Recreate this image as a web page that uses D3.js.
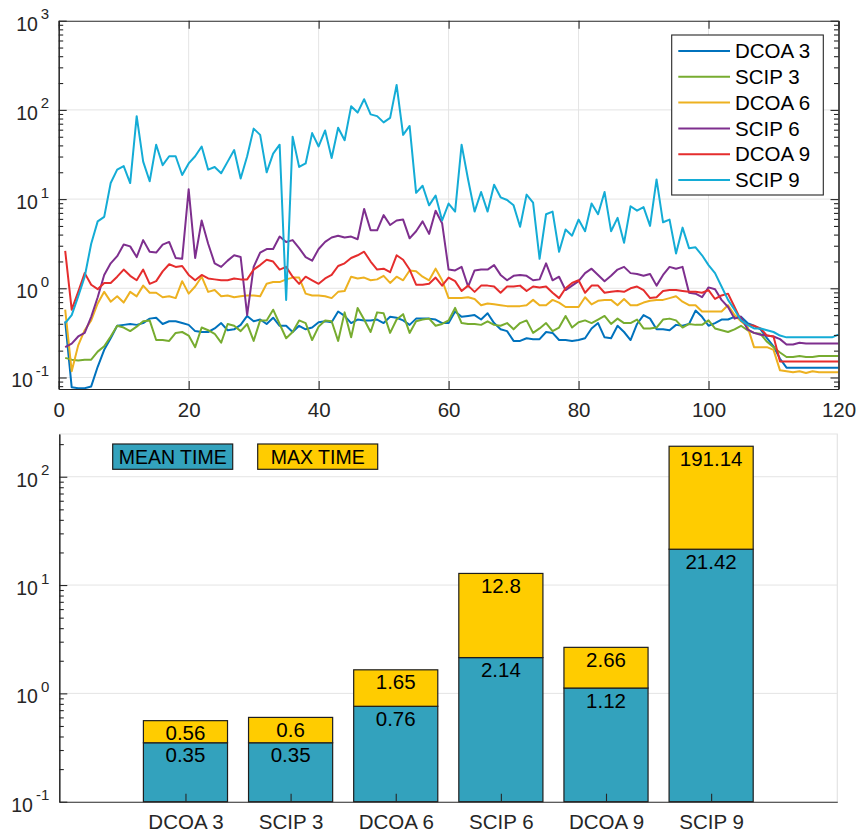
<!DOCTYPE html>
<html>
<head>
<meta charset="utf-8">
<script src="https://cdn.jsdelivr.net/npm/d3@7"></script>
<style>
	body { margin: 0; background: #fff; }
	svg { display: block; font-family: "Liberation Sans", Arial, sans-serif; }
</style>
</head>
<body>
<script>
//everything inside an anonymous function so nothing leaks into global scope
(function () {
	//series names, same order as they are plotted
	var seriesNames = ["DCOA 3", "SCIP 3", "DCOA 6", "SCIP 6", "DCOA 9", "SCIP 9"];
	var seriesColors = ["#0072BD", "#77AC30", "#EDB120", "#7E2F8E", "#E52D2D", "#14ACD6"];

	//solve time per instance 1..120, stored as log10(seconds)
	var dcoa3 = [-0.37,-1.11,-1.12,-1.12,-1.10,-0.88,-0.69,-0.56,-0.42,-0.41,-0.40,-0.41,-0.39,-0.34,-0.33,-0.40,-0.37,-0.37,-0.39,-0.41,
		-0.48,-0.49,-0.49,-0.45,-0.39,-0.47,-0.46,-0.41,-0.31,-0.37,-0.35,-0.40,-0.33,-0.42,-0.42,-0.49,-0.42,-0.46,-0.44,-0.38,
		-0.37,-0.38,-0.26,-0.31,-0.39,-0.35,-0.36,-0.36,-0.35,-0.39,-0.32,-0.33,-0.36,-0.41,-0.34,-0.34,-0.34,-0.35,-0.39,-0.39,
		-0.26,-0.32,-0.31,-0.30,-0.35,-0.28,-0.39,-0.46,-0.48,-0.59,-0.59,-0.56,-0.57,-0.57,-0.49,-0.50,-0.58,-0.58,-0.59,-0.58,
		-0.56,-0.45,-0.39,-0.55,-0.56,-0.42,-0.49,-0.58,-0.40,-0.30,-0.34,-0.46,-0.46,-0.47,-0.41,-0.42,-0.40,-0.25,-0.32,-0.42,
		-0.39,-0.35,-0.35,-0.32,-0.32,-0.39,-0.42,-0.46,-0.56,-0.65,-0.79,-0.89,-0.89,-0.89,-0.89,-0.89,-0.89,-0.89,-0.89,-0.89];
	var scip3 = [-0.78,-0.80,-0.81,-0.80,-0.80,-0.71,-0.65,-0.54,-0.42,-0.44,-0.48,-0.43,-0.37,-0.36,-0.58,-0.58,-0.59,-0.50,-0.49,-0.53,
		-0.66,-0.44,-0.47,-0.51,-0.61,-0.40,-0.42,-0.48,-0.40,-0.59,-0.36,-0.36,-0.24,-0.40,-0.56,-0.49,-0.36,-0.39,-0.58,-0.43,
		-0.36,-0.37,-0.59,-0.27,-0.55,-0.22,-0.35,-0.49,-0.27,-0.28,-0.50,-0.35,-0.29,-0.50,-0.37,-0.35,-0.34,-0.42,-0.40,-0.36,
		-0.22,-0.39,-0.40,-0.40,-0.41,-0.37,-0.41,-0.42,-0.39,-0.46,-0.39,-0.36,-0.50,-0.45,-0.39,-0.48,-0.44,-0.31,-0.44,-0.38,
		-0.36,-0.39,-0.35,-0.31,-0.40,-0.34,-0.39,-0.39,-0.35,-0.45,-0.45,-0.44,-0.35,-0.34,-0.36,-0.44,-0.40,-0.41,-0.41,-0.36,
		-0.45,-0.47,-0.49,-0.46,-0.42,-0.47,-0.50,-0.51,-0.60,-0.66,-0.72,-0.77,-0.77,-0.76,-0.77,-0.77,-0.76,-0.76,-0.76,-0.76];
	var dcoa6 = [-0.24,-0.93,-0.64,-0.47,-0.36,-0.17,-0.04,-0.15,-0.09,-0.16,-0.04,-0.09,0.03,-0.05,-0.05,-0.10,-0.09,-0.11,0.08,-0.06,
		0.02,0.13,-0.04,-0.02,-0.09,-0.08,-0.10,-0.09,-0.08,-0.08,-0.09,0.05,0.07,0.07,0.10,0.12,0.12,-0.06,-0.08,-0.08,
		-0.09,-0.11,-0.04,-0.03,0.13,0.11,0.12,0.09,0.10,0.14,0.06,0.13,0.09,0.20,0.19,0.13,0.09,0.22,0.09,-0.11,
		-0.11,-0.11,-0.10,-0.12,-0.19,-0.17,-0.18,-0.19,-0.20,-0.20,-0.20,-0.19,-0.13,-0.19,-0.19,-0.13,-0.16,-0.21,-0.21,-0.21,
		-0.10,-0.18,-0.14,-0.13,-0.13,-0.19,-0.12,-0.19,-0.19,-0.16,-0.14,-0.13,-0.13,-0.11,-0.09,-0.15,-0.19,-0.19,-0.26,-0.26,
		-0.26,-0.26,-0.19,-0.30,-0.37,-0.43,-0.66,-0.66,-0.66,-0.69,-0.92,-0.93,-0.94,-0.93,-0.95,-0.93,-0.94,-0.94,-0.94,-0.94];
	var scip6 = [-0.66,-0.62,-0.54,-0.50,-0.32,-0.10,0.15,0.28,0.36,0.49,0.47,0.35,0.54,0.41,0.40,0.49,0.52,0.34,0.33,1.11,
		0.34,0.76,0.50,0.28,0.24,0.31,0.37,0.35,-0.30,0.24,0.40,0.44,0.44,0.58,0.52,0.54,0.45,0.35,0.31,0.44,
		0.52,0.57,0.59,0.57,0.58,0.55,0.89,0.65,0.65,0.82,0.71,0.76,0.77,0.56,0.64,0.75,0.61,0.87,0.73,0.21,
		0.20,0.24,0.02,0.20,0.21,0.21,0.26,0.15,0.09,0.14,0.15,0.14,0.09,0.10,0.28,0.09,0.13,-0.02,0.03,0.08,
		0.17,0.22,0.15,0.08,0.14,0.21,0.24,0.17,0.16,0.14,0.16,0.03,0.15,0.24,0.22,0.24,-0.05,-0.06,-0.10,0.01,
		-0.01,-0.13,-0.21,-0.34,-0.32,-0.46,-0.50,-0.52,-0.53,-0.54,-0.57,-0.63,-0.63,-0.61,-0.62,-0.62,-0.62,-0.62,-0.62,-0.62];
	var dcoa9 = [0.42,-0.24,-0.04,0.17,0.04,-0.01,0.06,0.06,0.13,0.21,0.14,0.09,0.21,0.05,0.08,0.19,0.27,0.24,0.25,0.15,
		0.09,0.15,0.11,0.10,0.09,0.09,0.11,0.10,0.10,0.21,0.26,0.32,0.30,0.21,0.24,0.13,0.05,0.13,0.09,0.05,
		0.11,0.15,0.25,0.28,0.34,0.37,0.41,0.30,0.21,0.22,0.18,0.37,0.32,0.21,0.04,0.04,0.05,0.12,0.03,0.12,
		0.08,-0.03,0.03,-0.04,0.03,0.03,0.02,-0.05,0.02,0.02,0.03,-0.03,0.02,0.01,0.02,-0.05,-0.11,0.00,0.06,0.09,
		-0.05,0.03,0.03,-0.05,-0.04,-0.03,-0.04,0.00,0.02,-0.02,-0.11,-0.10,-0.03,-0.02,-0.02,-0.03,-0.04,-0.04,-0.05,-0.02,
		-0.12,-0.08,-0.06,-0.21,-0.36,-0.41,-0.42,-0.45,-0.53,-0.54,-0.82,-0.82,-0.82,-0.82,-0.82,-0.82,-0.82,-0.82,-0.82,-0.82];
	var scip9 = [-0.39,-0.30,-0.09,0.13,0.50,0.75,0.80,1.18,1.33,1.37,1.18,1.93,1.42,1.20,1.61,1.38,1.48,1.48,1.27,1.40,
		1.48,1.59,1.33,1.36,1.29,1.42,1.55,1.23,1.48,1.79,1.72,1.30,1.51,1.61,-0.13,1.70,1.36,1.40,1.74,1.59,
		1.77,1.46,1.80,1.66,2.04,1.97,2.12,1.95,1.93,1.86,1.91,2.28,1.72,1.82,1.07,1.15,0.93,1.04,0.76,0.95,
		0.86,1.61,1.22,0.86,1.08,0.86,1.16,1.02,0.99,0.93,0.69,1.05,0.96,0.33,0.83,0.86,0.41,0.66,0.59,0.77,
		0.64,0.95,0.83,1.08,0.64,0.79,0.51,0.92,0.87,0.91,0.70,1.22,0.74,0.77,0.39,0.68,0.45,0.46,0.37,0.26,
		0.17,0.02,-0.13,-0.24,-0.36,-0.41,-0.45,-0.45,-0.47,-0.49,-0.53,-0.55,-0.55,-0.55,-0.55,-0.55,-0.55,-0.55,-0.55,-0.52];
	var allSeries = [dcoa3, scip3, dcoa6, scip6, dcoa9, scip9];

	//bar chart data (seconds)
	var barCategories = ["DCOA 3", "SCIP 3", "DCOA 6", "SCIP 6", "DCOA 9", "SCIP 9"];
	var meanTime = [0.35, 0.35, 0.76, 2.14, 1.12, 21.42];
	var maxTime = [0.56, 0.6, 1.65, 12.8, 2.66, 191.14];
	var barLegend = ["MEAN TIME", "MAX TIME"];

	//tick values
	var xTicksTop = [0, 20, 40, 60, 80, 100, 120];
	var yExpTop = [-1, 0, 1, 2, 3];
	var yExpBottom = [-1, 0, 1, 2];

	var axisColor = "#262626",
		gridColor = "#e4e4e4",
		meanColor = "#33A2BD",
		maxColor = "#FFCC00",
		fontSize = 20.5;

	var svg = d3.select("body")
		.append("svg")
		.attr("width", 858)
		.attr("height", 834);

	setLines();
	setBars();

	//minor log ticks 2..9 x 10^k inside a domain
	function minorTicks(domain) {
		var out = [];
		for (var k = -3; k <= 3; k++) {
			for (var m = 2; m <= 9; m++) {
				var v = m * Math.pow(10, k);
				if (v > domain[0] && v < domain[1]) out.push(v);
			}
		}
		return out;
	}

	function styleAxis(g, showText) {
		g.attr("font-family", null).attr("font-size", null);
		g.select(".domain").attr("stroke", axisColor).attr("stroke-width", 1.1);
		g.selectAll(".tick line").attr("stroke", axisColor).attr("stroke-width", 1.1);
		g.selectAll(".tick text")
			.attr("fill", axisColor)
			.style("font-size", fontSize + "px")
			.style("display", showText ? null : "none");
	}

	//log labels drawn as 10 with a superscript exponent
	function yLabels(g, y, exps, xRight) {
		var t = g.selectAll(".ylab")
			.data(exps)
			.enter()
			.append("text")
			.attr("class", "ylab")
			.attr("x", xRight)
			.attr("y", function (d) { return y(Math.pow(10, d)) + 10; })
			.attr("text-anchor", "end")
			.attr("fill", axisColor)
			.style("font-size", "19.5px");
		t.append("tspan").text("10");
		t.append("tspan")
			.attr("dx", 3)
			.attr("dy", -11.5)
			.style("font-size", "15px")
			.text(function (d) { return d; });
	}

	//top panel: time per instance
	function setLines() {
		var left = 58.7, right = 838.5, top = 20.7, bottom = 389;
		var x = d3.scaleLinear().domain([0, 120]).range([left, right]);
		var y = d3.scaleLog().domain([0.0743, 1000]).range([bottom, top]);
		var g = svg.append("g");

		g.append("rect")
			.attr("x", left).attr("y", top)
			.attr("width", right - left).attr("height", bottom - top)
			.attr("fill", "#fff");

		g.append("clipPath").attr("id", "clipTop")
			.append("rect")
			.attr("x", left).attr("y", top)
			.attr("width", right - left).attr("height", bottom - top);

		//grid
		g.selectAll(".vgrid")
			.data(xTicksTop.slice(1, -1))
			.enter()
			.append("line")
			.attr("x1", function (d) { return x(d); })
			.attr("x2", function (d) { return x(d); })
			.attr("y1", top).attr("y2", bottom)
			.attr("stroke", gridColor);
		g.selectAll(".hgrid")
			.data(yExpTop.slice(0, -1))
			.enter()
			.append("line")
			.attr("x1", left).attr("x2", right)
			.attr("y1", function (d) { return y(Math.pow(10, d)); })
			.attr("y2", function (d) { return y(Math.pow(10, d)); })
			.attr("stroke", gridColor);

		var line = d3.line()
			.x(function (d, i) { return x(i + 1); })
			.y(function (d) { return y(Math.pow(10, d)); });

		g.append("g")
			.attr("clip-path", "url(#clipTop)")
			.selectAll(".series")
			.data(allSeries)
			.enter()
			.append("path")
			.attr("class", "series")
			.attr("d", line)
			.attr("fill", "none")
			.attr("stroke-width", 2)
			.attr("stroke-linejoin", "round")
			.attr("stroke", function (d, i) { return seriesColors[i]; });

		var majors = yExpTop.map(function (d) { return Math.pow(10, d); });
		var minors = minorTicks(y.domain());

		//axes, ticks pointing inwards on all four sides
		styleAxis(g.append("g").attr("transform", "translate(0," + bottom + ")")
			.call(d3.axisBottom(x).tickValues(xTicksTop).tickSizeInner(-8).tickSizeOuter(0).tickPadding(13).tickFormat(d3.format("d"))), true);
		styleAxis(g.append("g").attr("transform", "translate(0," + top + ")")
			.call(d3.axisTop(x).tickValues(xTicksTop).tickSizeInner(-8).tickSizeOuter(0)), false);
		styleAxis(g.append("g").attr("transform", "translate(" + left + ",0)")
			.call(d3.axisLeft(y).tickValues(majors).tickSizeInner(-8).tickSizeOuter(0)), false);
		styleAxis(g.append("g").attr("transform", "translate(" + left + ",0)")
			.call(d3.axisLeft(y).tickValues(minors).tickSizeInner(-4.5).tickSizeOuter(0)), false);
		styleAxis(g.append("g").attr("transform", "translate(" + right + ",0)")
			.call(d3.axisRight(y).tickValues(majors).tickSizeInner(-8).tickSizeOuter(0)), false);
		styleAxis(g.append("g").attr("transform", "translate(" + right + ",0)")
			.call(d3.axisRight(y).tickValues(minors).tickSizeInner(-4.5).tickSizeOuter(0)), false);

		yLabels(g, y, yExpTop, left - 9.5);

		//legend
		var lg = g.append("g");
		lg.append("rect")
			.attr("x", 671.7).attr("y", 35)
			.attr("width", 151.6).attr("height", 160)
			.attr("fill", "#fff")
			.attr("stroke", axisColor)
			.attr("stroke-width", 1.1);
		var item = lg.selectAll(".item")
			.data(seriesNames)
			.enter()
			.append("g")
			.attr("transform", function (d, i) { return "translate(0," + (51 + i * 25.8) + ")"; });
		item.append("line")
			.attr("x1", 678.3).attr("x2", 730)
			.attr("stroke-width", 2)
			.attr("stroke", function (d, i) { return seriesColors[i]; });
		item.append("text")
			.attr("x", 735)
			.attr("dy", "0.35em")
			.attr("fill", "#000")
			.style("font-size", fontSize + "px")
			.text(function (d) { return d; });
	}

	//bottom panel: stacked mean / max bars
	function setBars() {
		var left = 59.3, right = 837.3, top = 434, bottom = 801.7;
		var x = d3.scaleLinear().domain([-0.2, 7.2]).range([left, right]);
		var y = d3.scaleLog().domain([0.1, 248]).range([bottom, top]);
		var barW = x(0.8) - x(0);
		var g = svg.append("g");

		//light frame on top and right
		g.append("path")
			.attr("d", "M" + left + "," + top + "H" + right + "V" + bottom)
			.attr("fill", "none")
			.attr("stroke", gridColor)
			.attr("stroke-width", 1.2);

		g.selectAll(".hgrid")
			.data(yExpBottom.slice(1))
			.enter()
			.append("line")
			.attr("x1", left).attr("x2", right)
			.attr("y1", function (d) { return y(Math.pow(10, d)); })
			.attr("y2", function (d) { return y(Math.pow(10, d)); })
			.attr("stroke", gridColor);

		var bars = g.selectAll(".bar")
			.data(barCategories)
			.enter()
			.append("g")
			.attr("class", "bar");

		bars.append("rect")
			.attr("x", function (d, i) { return x(i + 1) - barW / 2; })
			.attr("width", barW)
			.attr("y", function (d, i) { return y(meanTime[i]); })
			.attr("height", function (d, i) { return y(0.1) - y(meanTime[i]); })
			.attr("fill", meanColor)
			.attr("stroke", "#1e1e1e")
			.attr("stroke-width", 1.2);
		bars.append("rect")
			.attr("x", function (d, i) { return x(i + 1) - barW / 2; })
			.attr("width", barW)
			.attr("y", function (d, i) { return y(maxTime[i]); })
			.attr("height", function (d, i) { return y(meanTime[i]) - y(maxTime[i]); })
			.attr("fill", maxColor)
			.attr("stroke", "#1e1e1e")
			.attr("stroke-width", 1.2);

		//value labels just under each segment top
		bars.append("text")
			.attr("x", function (d, i) { return x(i + 1); })
			.attr("y", function (d, i) { return y(meanTime[i]) + 19.5; })
			.attr("text-anchor", "middle")
			.style("font-size", fontSize + "px")
			.text(function (d, i) { return meanTime[i]; });
		bars.append("text")
			.attr("x", function (d, i) { return x(i + 1); })
			.attr("y", function (d, i) { return y(maxTime[i]) + 19.5; })
			.attr("text-anchor", "middle")
			.style("font-size", fontSize + "px")
			.text(function (d, i) { return maxTime[i]; });

		var cats = barCategories.map(function (d, i) { return i + 1; });
		styleAxis(g.append("g").attr("transform", "translate(0," + bottom + ")")
			.call(d3.axisBottom(x).tickValues(cats).tickSizeInner(-8).tickSizeOuter(0).tickPadding(13)
				.tickFormat(function (d) { return barCategories[d - 1]; })), true);
		var majors = yExpBottom.map(function (d) { return Math.pow(10, d); });
		styleAxis(g.append("g").attr("transform", "translate(" + left + ",0)")
			.call(d3.axisLeft(y).tickValues(majors).tickSizeInner(-8).tickSizeOuter(0)), false);
		styleAxis(g.append("g").attr("transform", "translate(" + left + ",0)")
			.call(d3.axisLeft(y).tickValues(minorTicks(y.domain())).tickSizeInner(-4.5).tickSizeOuter(0)), false);

		yLabels(g, y, yExpBottom, left - 10);

		//legend boxes
		var lg = g.selectAll(".lg")
			.data(barLegend)
			.enter()
			.append("g")
			.attr("class", "lg");
		lg.append("rect")
			.attr("x", function (d, i) { return 112.7 + i * 145; })
			.attr("y", 444)
			.attr("width", 120)
			.attr("height", 25.3)
			.attr("fill", function (d, i) { return i == 0 ? meanColor : maxColor; })
			.attr("stroke", "#1e1e1e")
			.attr("stroke-width", 1.2);
		lg.append("text")
			.attr("x", function (d, i) { return 172.7 + i * 145; })
			.attr("y", 456.8)
			.attr("dy", "0.35em")
			.attr("text-anchor", "middle")
			.style("font-size", "19.5px")
			.text(function (d) { return d; });
	}
})();
</script>
</body>
</html>
